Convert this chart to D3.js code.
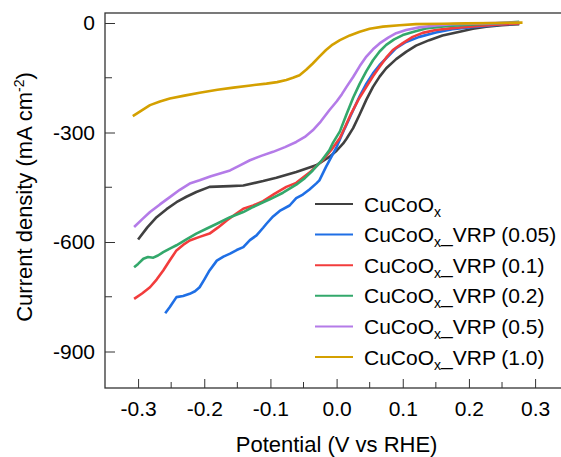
<!DOCTYPE html>
<html>
<head>
<meta charset="utf-8">
<script src="https://cdn.jsdelivr.net/npm/d3@7"></script>
<style>
  body { margin: 0; background: #fff; }
  text { font-family: "Liberation Sans", Arial, sans-serif; fill: #000; }
</style>
</head>
<body>
<script>
// series names and colours
var names = ["CuCoOx", "CuCoOx_VRP (0.05)", "CuCoOx_VRP (0.1)", "CuCoOx_VRP (0.2)", "CuCoOx_VRP (0.5)", "CuCoOx_VRP (1.0)"];
var colors = ["#404040", "#1f6fe5", "#f23c3c", "#33a86b", "#b47be8", "#d4a000"];

// [potential (V vs RHE), current density (mA cm-2)]
var cuCoOx = [[-0.300,-593],[-0.286,-560],[-0.272,-532],[-0.257,-510],[-0.242,-491],[-0.227,-476],[-0.212,-463],[-0.192,-449],[-0.161,-447],[-0.141,-445],[-0.111,-433],[-0.091,-424],[-0.061,-408],[-0.031,-390],[-0.011,-367],[0.000,-350],[0.010,-330],[0.015,-317],[0.025,-288],[0.035,-250],[0.045,-210],[0.055,-175],[0.065,-147],[0.075,-124],[0.090,-99],[0.105,-79],[0.120,-62],[0.140,-47],[0.160,-34],[0.186,-24],[0.206,-16],[0.226,-10],[0.250,-6],[0.276,-3]];
var vrp005 = [[-0.259,-795],[-0.252,-778],[-0.242,-751],[-0.232,-748],[-0.222,-742],[-0.214,-735],[-0.207,-724],[-0.200,-703],[-0.192,-678],[-0.181,-651],[-0.171,-640],[-0.161,-632],[-0.151,-622],[-0.141,-614],[-0.131,-595],[-0.121,-582],[-0.111,-561],[-0.106,-550],[-0.096,-530],[-0.086,-515],[-0.071,-500],[-0.061,-480],[-0.051,-470],[-0.041,-456],[-0.031,-440],[-0.026,-431],[-0.016,-394],[0.000,-340],[0.012,-290],[0.025,-239],[0.035,-200],[0.045,-166],[0.055,-138],[0.065,-115],[0.090,-69],[0.105,-52],[0.125,-38],[0.150,-26],[0.175,-17],[0.200,-12],[0.226,-8],[0.250,-4],[0.276,-1]];
var vrp01 = [[-0.306,-756],[-0.294,-741],[-0.282,-724],[-0.272,-703],[-0.262,-678],[-0.252,-650],[-0.242,-623],[-0.232,-608],[-0.222,-596],[-0.207,-586],[-0.192,-577],[-0.179,-560],[-0.166,-541],[-0.153,-524],[-0.141,-509],[-0.126,-500],[-0.111,-488],[-0.094,-468],[-0.076,-449],[-0.061,-438],[-0.041,-410],[-0.021,-376],[-0.008,-348],[0.005,-315],[0.014,-280],[0.022,-248],[0.033,-210],[0.045,-175],[0.055,-146],[0.065,-120],[0.075,-95],[0.085,-74],[0.100,-55],[0.115,-38],[0.130,-27],[0.150,-19],[0.175,-14],[0.200,-10],[0.240,-5],[0.276,-1]];
var vrp02 = [[-0.306,-669],[-0.300,-660],[-0.292,-646],[-0.285,-641],[-0.277,-643],[-0.270,-637],[-0.262,-628],[-0.252,-618],[-0.242,-609],[-0.227,-593],[-0.212,-577],[-0.196,-563],[-0.181,-550],[-0.161,-532],[-0.141,-518],[-0.126,-504],[-0.111,-491],[-0.101,-483],[-0.081,-465],[-0.061,-443],[-0.048,-425],[-0.036,-404],[-0.024,-380],[-0.011,-349],[-0.006,-330],[0.005,-297],[0.015,-250],[0.025,-205],[0.035,-166],[0.045,-132],[0.055,-102],[0.065,-78],[0.075,-60],[0.087,-45],[0.100,-33],[0.118,-23],[0.135,-15],[0.165,-9],[0.200,-5],[0.240,-1],[0.276,3]];
var vrp05 = [[-0.306,-559],[-0.294,-538],[-0.282,-518],[-0.267,-497],[-0.252,-477],[-0.237,-457],[-0.222,-440],[-0.207,-431],[-0.190,-420],[-0.161,-404],[-0.146,-390],[-0.131,-376],[-0.114,-364],[-0.096,-353],[-0.078,-340],[-0.061,-326],[-0.048,-312],[-0.036,-294],[-0.024,-270],[-0.011,-239],[0.000,-215],[0.008,-195],[0.015,-175],[0.025,-148],[0.035,-118],[0.045,-92],[0.055,-72],[0.065,-56],[0.078,-40],[0.090,-28],[0.105,-19],[0.125,-12],[0.150,-7],[0.175,-3],[0.220,-1],[0.276,1]];
var vrp10 = [[-0.308,-255],[-0.295,-240],[-0.282,-225],[-0.267,-215],[-0.252,-207],[-0.230,-199],[-0.207,-191],[-0.180,-183],[-0.156,-177],[-0.130,-171],[-0.106,-166],[-0.090,-162],[-0.076,-156],[-0.066,-150],[-0.056,-143],[-0.046,-128],[-0.036,-111],[-0.026,-92],[-0.016,-74],[-0.006,-59],[0.005,-47],[0.020,-34],[0.035,-24],[0.050,-16],[0.070,-10],[0.095,-6],[0.120,-3],[0.160,-2],[0.196,-1],[0.240,0],[0.281,1]];
var series = [cuCoOx, vrp005, vrp01, vrp02, vrp05, vrp10];

// axis ticks
var xTicks = [-0.3, -0.2, -0.1, 0.0, 0.1, 0.2, 0.3];
var xMinor = [-0.25, -0.15, -0.05, 0.05, 0.15, 0.25];
var yTicks = [0, -300, -600, -900];
var yMinor = [-150, -450, -750];

var width = 561, height = 457;
var plotLeft = 105, plotTop = 13, plotBottom = 388;

var svg = d3.select("body").append("svg")
    .attr("width", width)
    .attr("height", height);

var x = d3.scaleLinear().domain([-0.35, 0.35]).range([plotLeft, plotLeft + 0.7 * 661.7]);
var y = d3.scaleLinear().domain([-1000, 27.4]).range([plotBottom, plotTop]);

// plain hyphen minus like the original
var hyphen = function(f) { return function(d) { return f(d).replace("\u2212", "-"); }; };

// frame (right side runs past the window edge)
svg.append("rect")
    .attr("x", plotLeft).attr("y", plotTop)
    .attr("width", x(0.35) - plotLeft).attr("height", plotBottom - plotTop)
    .attr("fill", "none").attr("stroke", "#333").attr("stroke-width", 1.3);

// curves
var line = d3.line()
    .x(function(d) { return x(d[0]); })
    .y(function(d) { return y(d[1]); });

svg.selectAll(".curve")
    .data(series)
    .enter()
    .append("path")
    .attr("class", "curve")
    .attr("d", line)
    .attr("fill", "none")
    .attr("stroke", function(d, i) { return colors[i]; })
    .attr("stroke-width", 2.6)
    .attr("stroke-linejoin", "round");

// x axis, ticks pointing inward
var xAxis = svg.append("g")
    .attr("transform", "translate(0," + plotBottom + ")")
    .call(d3.axisBottom(x).tickValues(xTicks).tickSizeInner(-9).tickSizeOuter(0).tickPadding(13)
        .tickFormat(hyphen(d3.format(".1f"))));
xAxis.append("g").selectAll("line")
    .data(xMinor).enter().append("line")
    .attr("x1", function(d) { return x(d); }).attr("x2", function(d) { return x(d); })
    .attr("y1", 0).attr("y2", -6).attr("stroke", "#333");

// y axis
var yAxis = svg.append("g")
    .attr("transform", "translate(" + plotLeft + ",0)")
    .call(d3.axisLeft(y).tickValues(yTicks).tickSizeInner(-10).tickSizeOuter(0).tickPadding(10)
        .tickFormat(hyphen(d3.format("d"))));
yAxis.append("g").selectAll("line")
    .data(yMinor).enter().append("line")
    .attr("y1", function(d) { return y(d); }).attr("y2", function(d) { return y(d); })
    .attr("x1", 0).attr("x2", 7).attr("stroke", "#333");

svg.selectAll(".domain").remove();
svg.selectAll(".tick line").attr("stroke", "#333");
svg.selectAll(".tick text")
    .style("font-family", "'Liberation Sans', Arial, sans-serif")
    .style("font-size", "21px").attr("fill", "#000");

// axis titles
svg.append("text")
    .attr("x", x(0)).attr("y", 452)
    .attr("text-anchor", "middle")
    .style("font-size", "22px")
    .text("Potential (V vs RHE)");

var yt = svg.append("text")
    .attr("transform", "translate(32,197) rotate(-90)")
    .attr("text-anchor", "middle")
    .style("font-size", "22px");
yt.append("tspan").text("Current density (mA cm");
yt.append("tspan").attr("dy", -8).style("font-size", "14px").text("-2");
yt.append("tspan").attr("dy", 8).text(")");

// legend
var legend = svg.append("g");
var rows = legend.selectAll("g")
    .data(names).enter().append("g")
    .attr("transform", function(d, i) { return "translate(315," + (204 + i * 30.6) + ")"; });
rows.append("line")
    .attr("x1", 0).attr("x2", 38)
    .attr("stroke", function(d, i) { return colors[i]; })
    .attr("stroke-width", 2);
var lt = rows.append("text")
    .attr("x", 49).attr("y", 7.5)
    .style("font-size", "21px");
lt.append("tspan").text("CuCoO");
lt.append("tspan").attr("dy", 5).style("font-size", "14px").text("x");
lt.append("tspan").attr("dy", -5).text(function(d) { return d.slice(6); });
</script>
</body>
</html>
